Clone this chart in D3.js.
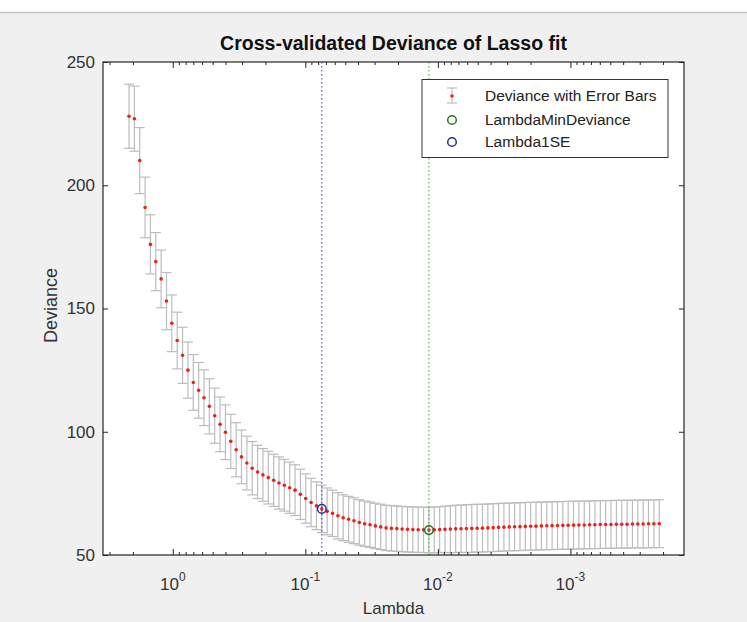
<!DOCTYPE html>
<html>
<head>
<meta charset="utf-8">
<title>Cross-validated Deviance of Lasso fit</title>
<script src="https://cdn.jsdelivr.net/npm/d3@7"></script>
<style>
  body { margin: 0; background: #f0f0f0; }
  text { font-family: "Liberation Sans", Arial, sans-serif; }
</style>
</head>
<body>
<script>
  // lambda values (largest first)
  var lambda = [2.138, 1.948, 1.775, 1.617, 1.474, 1.343, 1.224, 1.115, 1.016, 0.9256,
    0.8433, 0.7684, 0.7001, 0.6379, 0.5812, 0.5296, 0.4825, 0.4397, 0.4006, 0.3650,
    0.3326, 0.3030, 0.2761, 0.2516, 0.2292, 0.2089, 0.1903, 0.1734, 0.1580, 0.1440,
    0.1312, 0.1195, 0.1089, 0.09924, 0.09042, 0.08239, 0.07507, 0.06840, 0.06232, 0.05679,
    0.05174, 0.04715, 0.04296, 0.03914, 0.03567, 0.03250, 0.02961, 0.02698, 0.02458, 0.02240,
    0.02041, 0.01860, 0.01694, 0.01544, 0.01407, 0.01282, 0.01168, 0.01064, 0.009696, 0.008835,
    0.008050, 0.007335, 0.006683, 0.006088, 0.005547, 0.005055, 0.004606, 0.004196, 0.003824, 0.003484,
    0.003174, 0.002892, 0.002636, 0.002401, 0.002188, 0.001994, 0.001817, 0.001655, 0.001508, 0.001374,
    0.001252, 0.001141, 0.001040, 0.0009473, 0.0008632, 0.0007865, 0.0007166, 0.0006530, 0.0005948, 0.0005420,
    0.0004938, 0.0004499, 0.0004100, 0.0003735, 0.0003404, 0.0003101, 0.0002826, 0.0002575, 0.0002346, 0.0002138]

  var deviance = [228, 227, 210, 191, 176, 169, 162, 153, 144, 137,
    131, 125, 120, 116.8, 113.8, 110.3, 106.5, 103.0, 99.8, 96.1,
    92.7, 89.8, 87.3, 85.2, 83.7, 82.5, 81.4, 80.3, 79.2, 78.3,
    77.3, 76.3, 74.6, 72.9, 71.3, 70.0, 68.7, 67.7, 66.9, 65.9,
    65.1, 64.5, 63.9, 63.2, 62.7, 62.3, 61.8, 61.4, 61.0, 60.8,
    60.7, 60.5, 60.4, 60.3, 60.25, 60.2, 60.1, 60.2, 60.3, 60.4,
    60.5, 60.6, 60.65, 60.7, 60.8, 60.85, 60.9, 61.0, 61.1, 61.2,
    61.3, 61.4, 61.45, 61.5, 61.6, 61.65, 61.7, 61.8, 61.85, 61.9,
    61.95, 62.0, 62.05, 62.1, 62.15, 62.2, 62.25, 62.3, 62.35, 62.4,
    62.4, 62.45, 62.5, 62.5, 62.55, 62.6, 62.6, 62.65, 62.65, 62.7]

  var se = [13.0, 13.2, 13.4, 12.3, 12.0, 11.8, 11.7, 11.6, 11.5, 11.5,
    11.4, 11.4, 11.3, 11.3, 11.3, 11.2, 11.2, 11.1, 11.1, 11.0,
    11.0, 10.9, 10.9, 10.8, 10.8, 10.7, 10.7, 10.6, 10.6, 10.5,
    10.4, 10.3, 10.2, 10.0, 9.8, 9.7, 9.6, 9.5, 9.4, 9.4,
    9.3, 9.3, 9.3, 9.2, 9.2, 9.2, 9.2, 9.2, 9.2, 9.2,
    9.2, 9.2, 9.2, 9.2, 9.2, 9.2, 9.2, 9.3, 9.3, 9.4,
    9.5, 9.6, 9.6, 9.7, 9.7, 9.7, 9.7, 9.7, 9.7, 9.7,
    9.7, 9.7, 9.7, 9.7, 9.7, 9.7, 9.7, 9.7, 9.7, 9.7,
    9.7, 9.7, 9.7, 9.7, 9.7, 9.7, 9.7, 9.7, 9.7, 9.7,
    9.7, 9.7, 9.7, 9.7, 9.7, 9.7, 9.7, 9.7, 9.7, 9.7]

  var yTicks = [50, 100, 150, 200, 250]
  var xMajor = [1, 0.1, 0.01, 0.001]
  var xExp = ["0", "-1", "-2", "-3"]
  var idxMin = 56, idx1SE = 36
  var legendLabels = ["Deviance with Error Bars", "LambdaMinDeviance", "Lambda1SE"]

  let [w, h] = [747, 622]
  let m = { left: 103, right: 684, top: 62, bottom: 555 }

  var svg = d3.select("body").append("svg")
    .attr("width", w).attr("height", h)

  // figure background
  svg.append("rect").attr("width", w).attr("height", h).attr("fill", "#f0f0f0")
  svg.append("rect").attr("width", w).attr("height", 12).attr("fill", "#ffffff")
  svg.append("line").attr("x1", 0).attr("x2", w).attr("y1", 12.5).attr("y2", 12.5)
    .attr("stroke", "#c4c4c4").attr("stroke-width", 1.5)

  var x = d3.scaleLog().domain([3.36, 1.39e-4]).range([m.left, m.right])
  var y = d3.scaleLinear().domain([50, 250]).range([m.bottom, m.top])

  svg.append("rect")
    .attr("x", m.left).attr("y", m.top)
    .attr("width", m.right - m.left).attr("height", m.bottom - m.top)
    .attr("fill", "#fff")

  var data = lambda.map((l, i) => ({ l: l, d: deviance[i], s: se[i] }))

  // error bars
  var eb = svg.append("g").attr("stroke", "#bcbcbc").attr("stroke-width", 1.2).attr("fill", "none")
  var cap = 5
  data.forEach(function (p) {
    var cx = x(p.l), y1 = y(p.d + p.s), y0 = y(p.d - p.s)
    eb.append("line").attr("x1", cx).attr("x2", cx).attr("y1", y1).attr("y2", y0)
    eb.append("line").attr("x1", cx - cap).attr("x2", cx + cap).attr("y1", y1).attr("y2", y1)
    eb.append("line").attr("x1", cx - cap).attr("x2", cx + cap).attr("y1", y0).attr("y2", y0)
  })

  svg.append("g").selectAll("circle").data(data).join("circle")
    .attr("cx", d => x(d.l)).attr("cy", d => y(d.d))
    .attr("r", 1.8).attr("fill", "#e8231f")

  // vertical dotted lines
  svg.append("line")
    .attr("x1", x(lambda[idx1SE])).attr("x2", x(lambda[idx1SE]))
    .attr("y1", m.top).attr("y2", m.bottom)
    .attr("stroke", "#3a3ac0").attr("stroke-width", 1).attr("stroke-dasharray", "1.5,2.5")
  svg.append("line")
    .attr("x1", x(lambda[idxMin])).attr("x2", x(lambda[idxMin]))
    .attr("y1", m.top).attr("y2", m.bottom)
    .attr("stroke", "#33a533").attr("stroke-width", 1).attr("stroke-dasharray", "1.5,2.5")

  svg.append("circle")
    .attr("cx", x(lambda[idx1SE])).attr("cy", y(deviance[idx1SE])).attr("r", 4.3)
    .attr("fill", "none").attr("stroke", "#2a2aa0").attr("stroke-width", 1.5)
  svg.append("circle")
    .attr("cx", x(lambda[idxMin])).attr("cy", y(deviance[idxMin])).attr("r", 4.3)
    .attr("fill", "none").attr("stroke", "#1f7a1f").attr("stroke-width", 1.5)

  // axes
  var minor = []
  for (var e = 0; e >= -4; e--) {
    for (var k = 2; k <= 9; k++) {
      var v = k * Math.pow(10, e)
      if (v <= x.domain()[0] && v >= x.domain()[1]) minor.push(v)
    }
  }
  var axisCol = "#262626"
  function styleAxis(g) {
    g.select(".domain").remove()
    g.selectAll(".tick line").attr("stroke", axisCol)
    g.selectAll(".tick text").remove()
  }
  svg.append("g").attr("transform", `translate(0,${m.bottom})`)
    .call(d3.axisBottom(x).tickValues(minor).tickSize(-3)).call(styleAxis)
  svg.append("g").attr("transform", `translate(0,${m.bottom})`)
    .call(d3.axisBottom(x).tickValues(xMajor).tickSize(-6)).call(styleAxis)
  svg.append("g").attr("transform", `translate(0,${m.top})`)
    .call(d3.axisTop(x).tickValues(minor).tickSize(-3)).call(styleAxis)
  svg.append("g").attr("transform", `translate(0,${m.top})`)
    .call(d3.axisTop(x).tickValues(xMajor).tickSize(-6)).call(styleAxis)
  svg.append("g").attr("transform", `translate(${m.left},0)`)
    .call(d3.axisLeft(y).tickValues(yTicks).tickSize(-5)).call(styleAxis)
  svg.append("g").attr("transform", `translate(${m.right},0)`)
    .call(d3.axisRight(y).tickValues(yTicks).tickSize(-5)).call(styleAxis)

  svg.append("rect")
    .attr("x", m.left).attr("y", m.top)
    .attr("width", m.right - m.left).attr("height", m.bottom - m.top)
    .attr("fill", "none").attr("stroke", axisCol).attr("stroke-width", 1.2)

  // tick labels
  svg.append("g").selectAll("text").data(yTicks).join("text")
    .attr("x", m.left - 8).attr("y", d => y(d)).attr("dy", "0.35em")
    .attr("text-anchor", "end").attr("font-size", 17).attr("fill", "#333")
    .text(d => d)

  var xl = svg.append("g").selectAll("text").data(xMajor).join("text")
    .attr("x", d => x(d)).attr("y", 590)
    .attr("text-anchor", "middle").attr("font-size", 17).attr("fill", "#333")
  xl.append("tspan").text("10")
  xl.append("tspan").attr("dy", -9).attr("font-size", 12).text((d, i) => xExp[i])

  // titles
  svg.append("text").attr("x", (m.left + m.right) / 2).attr("y", 50)
    .attr("text-anchor", "middle").attr("font-size", 19.5).attr("font-weight", "bold")
    .attr("fill", "#111").text("Cross-validated Deviance of Lasso fit")
  svg.append("text").attr("x", (m.left + m.right) / 2).attr("y", 614)
    .attr("text-anchor", "middle").attr("font-size", 17).attr("fill", "#333").text("Lambda")
  svg.append("text")
    .attr("transform", `translate(57,${(m.top + m.bottom) / 2 - 3}) rotate(-90)`)
    .attr("text-anchor", "middle").attr("font-size", 18).attr("fill", "#333").text("Deviance")

  // legend
  var lg = svg.append("g")
  lg.append("rect").attr("x", 422).attr("y", 79.5).attr("width", 246).attr("height", 78)
    .attr("fill", "#fff").attr("stroke", "#333").attr("stroke-width", 1)
  var rows = [96, 120, 142]
  var sx = 452
  lg.append("line").attr("x1", sx).attr("x2", sx).attr("y1", rows[0] - 8).attr("y2", rows[0] + 7)
    .attr("stroke", "#bcbcbc").attr("stroke-width", 1.2)
  lg.append("line").attr("x1", sx - 5).attr("x2", sx + 5).attr("y1", rows[0] - 8).attr("y2", rows[0] - 8)
    .attr("stroke", "#bcbcbc").attr("stroke-width", 1.2)
  lg.append("line").attr("x1", sx - 5).attr("x2", sx + 5).attr("y1", rows[0] + 7).attr("y2", rows[0] + 7)
    .attr("stroke", "#bcbcbc").attr("stroke-width", 1.2)
  lg.append("circle").attr("cx", sx).attr("cy", rows[0]).attr("r", 1.8).attr("fill", "#e8231f")
  lg.append("circle").attr("cx", sx).attr("cy", rows[1]).attr("r", 4.3)
    .attr("fill", "none").attr("stroke", "#1f7a1f").attr("stroke-width", 1.5)
  lg.append("circle").attr("cx", sx).attr("cy", rows[2]).attr("r", 4.3)
    .attr("fill", "none").attr("stroke", "#2a2aa0").attr("stroke-width", 1.5)
  lg.selectAll("text.lab").data(legendLabels).join("text")
    .attr("x", 485).attr("y", (d, i) => rows[i]).attr("dy", "0.35em")
    .attr("font-size", 15.5).attr("fill", "#222").text(d => d)
</script>
</body>
</html>
